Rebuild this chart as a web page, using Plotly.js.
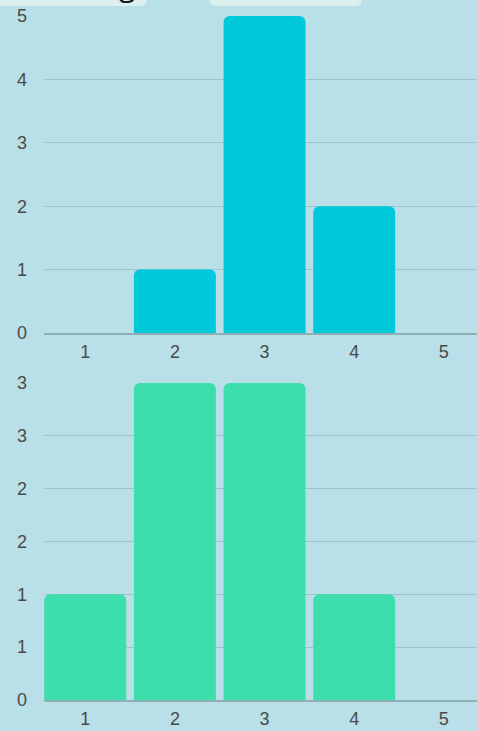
<!DOCTYPE html>
<html>
<head>
<meta charset="utf-8">
<script src="https://cdn.plot.ly/plotly-3.0.1.min.js"></script>
<style>
html,body{margin:0;padding:0;overflow:hidden;background:#b9e0e8;}
#chart{width:477px;height:731px;}
</style>
</head>
<body>
<div id="chart"></div>
<script>
const categories = [1, 2, 3, 4, 5];
const topValues = [0, 1, 5, 2, 0];
const bottomValues = [1, 3, 3, 1, 0];
const topTickVals = [0, 1, 2, 3, 4, 5];
const bottomTickVals = [0, 0.5, 1, 1.5, 2, 2.5, 3];
const bottomTickText = ['0', '1', '1', '2', '2', '3', '3'];

const W = 477, H = 731;
const M = {l: 44, r: 0, t: 16, b: 31};
const pw = W - M.l - M.r, ph = H - M.t - M.b;
const px = x => (x - M.l) / pw;
const py = y => 1 - (y - M.t) / ph;

function roundedBox(x0, x1, y0, y1, r) {
  const X0 = px(x0), X1 = px(x1), Y0 = py(y0), Y1 = py(y1);
  const rx = r / pw, ry = r / ph;
  return `M ${X0} ${Y0} L ${X1} ${Y0} L ${X1} ${Y1 + ry} Q ${X1} ${Y1} ${X1 - rx} ${Y1} L ${X0 + rx} ${Y1} Q ${X0} ${Y1} ${X0} ${Y1 + ry} Z`;
}

const tickFont = {family: 'Liberation Sans Narrow, Arial Narrow, sans-serif', size: 18, color: '#4a4a4a'};
const gridColor = '#9fc3cb';
const lineColor = '#90aeb6';

const data = [
  {type: 'bar', x: categories, y: topValues, xaxis: 'x', yaxis: 'y',
   marker: {color: '#00c9dc', cornerradius: 6}, hoverinfo: 'none'},
  {type: 'bar', x: categories, y: bottomValues, xaxis: 'x2', yaxis: 'y2',
   marker: {color: '#3cdeac', cornerradius: 6}, hoverinfo: 'none'}
];

const xCommon = {range: [0.54, 5.37], tickvals: categories, showgrid: false, zeroline: false,
  showline: true, linecolor: lineColor, linewidth: 2, tickfont: tickFont, ticks: '', ticklabelstandoff: 1, fixedrange: true};
const yCommon = {showgrid: true, gridcolor: gridColor, gridwidth: 1, zeroline: false, showline: false,
  tickfont: tickFont, ticks: '', ticklabelstandoff: 16, fixedrange: true};

const layout = {
  width: W, height: H,
  margin: M,
  paper_bgcolor: '#b9e0e8', plot_bgcolor: '#b9e0e8',
  showlegend: false,
  bargap: 0.086,
  xaxis: Object.assign({}, xCommon, {anchor: 'y'}),
  yaxis: Object.assign({}, yCommon, {domain: [py(333), 1], range: [0, 5], tickvals: topTickVals}),
  xaxis2: Object.assign({}, xCommon, {anchor: 'y2'}),
  yaxis2: Object.assign({}, yCommon, {domain: [0, py(383)], range: [0, 3], tickvals: bottomTickVals, ticktext: bottomTickText}),
  shapes: [
    {type: 'path', xref: 'paper', yref: 'paper', path: roundedBox(-10, 147, -20, 6, 7), fillcolor: '#dcefef', line: {width: 0}, layer: 'above'},
    {type: 'path', xref: 'paper', yref: 'paper', path: roundedBox(209, 362, -20, 6, 7), fillcolor: '#dcefef', line: {width: 0}, layer: 'above'}
  ],
  annotations: [
    {text: 'g', xref: 'paper', yref: 'paper', x: px(127), y: py(7), xanchor: 'center', yanchor: 'bottom',
     showarrow: false, font: {family: 'Open Sans, sans-serif', size: 30, color: '#111'}}
  ]
};

Plotly.newPlot('chart', data, layout, {staticPlot: true, displayModeBar: false});
</script>
</body>
</html>
